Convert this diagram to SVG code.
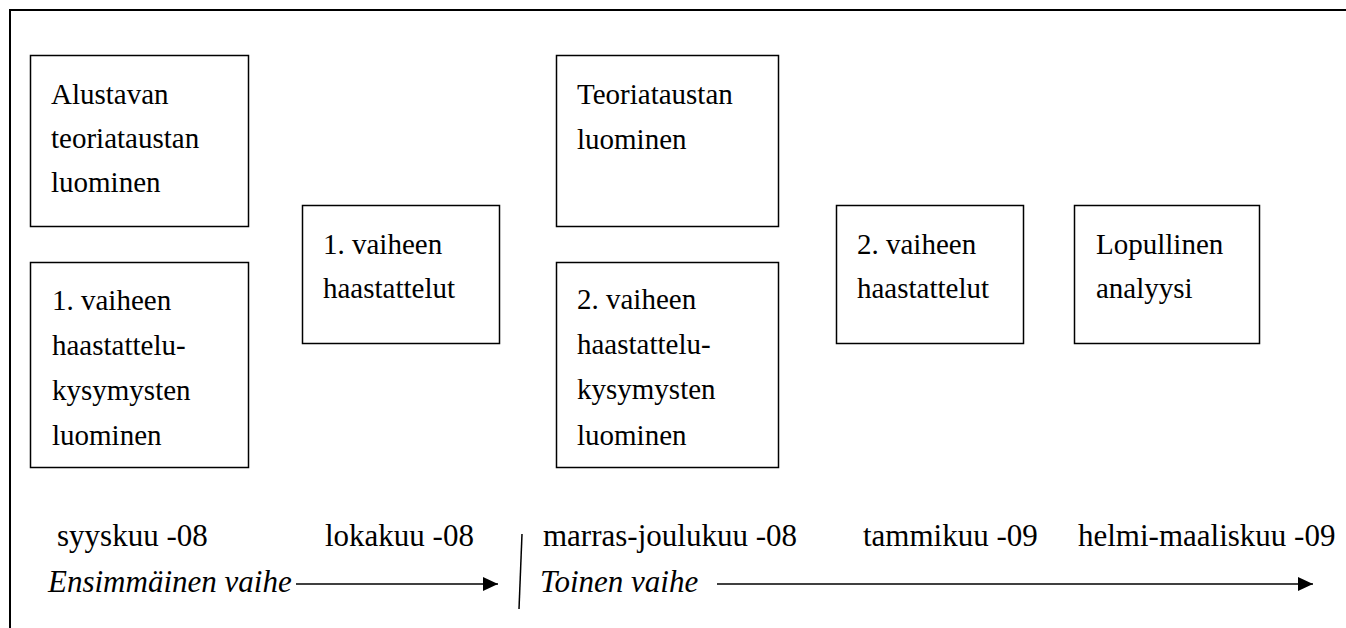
<svg xmlns="http://www.w3.org/2000/svg" width="1346" height="628" viewBox="0 0 1346 628">
<style>
.box{fill:#fff;stroke:#000;stroke-width:1.5}
text{font-family:'Liberation Serif','Times New Roman',Times,'DejaVu Serif',serif;fill:#000}
.t{font-size:29px}
.tl{font-size:31px}
.it{font-style:italic}
.ln{stroke:#000;stroke-width:1.5;fill:none}
</style>
<defs>
<marker id="ah" markerUnits="userSpaceOnUse" markerWidth="16" markerHeight="14" refX="15" refY="7" orient="auto">
<path d="M0,0 L15,7 L0,14 Z" fill="#000"/>
</marker>
</defs>
<rect width="1346" height="628" fill="#fff"/>
<g id="frame">
<path d="M10,628 V10 H1346" fill="none" stroke="#000" stroke-width="2"/>
</g>
<g id="n1">
<rect class="box" x="30.5" y="55.5" width="218" height="171"/>
<text class="t" x="51" y="104">Alustavan</text>
<text class="t" x="51" y="148">teoriataustan</text>
<text class="t" x="51" y="192">luominen</text>
</g>
<g id="n2">
<rect class="box" x="30.5" y="262.5" width="218" height="205"/>
<text class="t" x="52" y="310">1. vaiheen</text>
<text class="t" x="52" y="355">haastattelu-</text>
<text class="t" x="52" y="400">kysymysten</text>
<text class="t" x="52" y="445">luominen</text>
</g>
<g id="n3">
<rect class="box" x="302.5" y="205.5" width="197" height="138"/>
<text class="t" x="323" y="254">1. vaiheen</text>
<text class="t" x="323" y="298">haastattelut</text>
</g>
<g id="n4">
<rect class="box" x="556.5" y="55.5" width="222" height="171"/>
<text class="t" x="577" y="104">Teoriataustan</text>
<text class="t" x="577" y="149">luominen</text>
</g>
<g id="n5">
<rect class="box" x="556.5" y="262.5" width="222" height="205"/>
<text class="t" x="577" y="309">2. vaiheen</text>
<text class="t" x="577" y="354">haastattelu-</text>
<text class="t" x="577" y="399">kysymysten</text>
<text class="t" x="577" y="445">luominen</text>
</g>
<g id="n6">
<rect class="box" x="836.5" y="205.5" width="187" height="138"/>
<text class="t" x="857" y="254">2. vaiheen</text>
<text class="t" x="857" y="298">haastattelut</text>
</g>
<g id="n7">
<rect class="box" x="1074.5" y="205.5" width="185" height="138"/>
<text class="t" x="1096" y="254">Lopullinen</text>
<text class="t" x="1096" y="298">analyysi</text>
</g>
<g id="timeline">
<text class="tl" x="57" y="546">syyskuu -08</text>
<text class="tl" x="325" y="546">lokakuu -08</text>
<text class="tl" x="543" y="546">marras-joulukuu -08</text>
<text class="tl" x="863" y="546">tammikuu -09</text>
<text class="tl" x="1078" y="546">helmi-maaliskuu -09</text>
<text class="tl it" x="48" y="592">Ensimmäinen vaihe</text>
<text class="tl it" x="540" y="592">Toinen vaihe</text>
</g>
<g id="connectors">
<line class="ln" x1="296" y1="584" x2="498" y2="584" marker-end="url(#ah)"/>
<line class="ln" x1="717" y1="584" x2="1313" y2="584" marker-end="url(#ah)"/>
<line class="ln" x1="522" y1="534" x2="519" y2="609"/>
</g>
</svg>
